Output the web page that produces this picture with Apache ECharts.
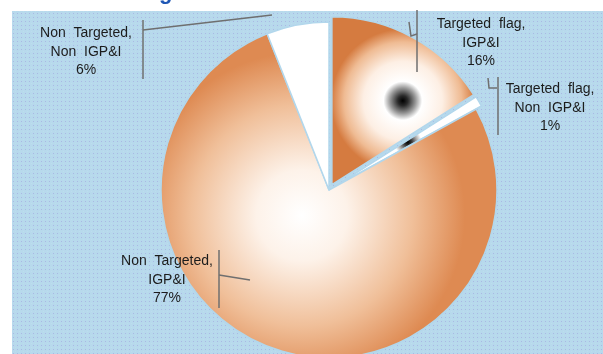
<!DOCTYPE html>
<html>
<head>
<meta charset="utf-8">
<script src="https://cdn.jsdelivr.net/npm/echarts@6/dist/echarts.min.js"></script>
<style>
html,body{margin:0;padding:0;background:#fff;}
#c{width:603px;height:354px;}
</style>
</head>
<body>
<div id="c"></div>
<script>
// ---- data ----
var categories = ["Targeted  flag,\nIGP&I", "Targeted  flag,\nNon  IGP&I", "Non  Targeted,\nIGP&I", "Non  Targeted,\nNon  IGP&I"];
var values = [16, 1, 77, 6];
var exploded = [true, true, false, false];

// ---- layout / style (kept separate from data) ----
var labelPos = [[481, 43], [550, 108], [167, 280], [86, 52]];
var fills = [
  {type:'radial', x:0.5, y:0.5, r:0.5, colorStops:[
    {offset:0, color:'#000000'},{offset:0.07, color:'#2a2a2a'},{offset:0.18, color:'#9a9a9a'},
    {offset:0.27, color:'#ffffff'},{offset:0.55, color:'#fdefe4'},{offset:0.82, color:'#efbb93'},{offset:1, color:'#d57b40'}]},
  {type:'radial', x:0.5, y:0.5, r:0.5, colorStops:[
    {offset:0, color:'#000000'},{offset:0.08, color:'#333333'},{offset:0.2, color:'#aaaaaa'},
    {offset:0.3, color:'#ffffff'},{offset:1, color:'#ffffff'}]},
  {type:'radial', x:0.42, y:0.56, r:0.5, colorStops:[
    {offset:0, color:'#ffffff'},{offset:0.28, color:'#fdf2e9'},{offset:0.68, color:'#f0bf99'},{offset:1, color:'#de8a52'}]},
  '#ffffff'
];

var sliceData = values.map(function(v, i){
  return {name: categories[i], value: v, selected: exploded[i], itemStyle: {color: fills[i]}};
});
var labelData = values.map(function(v, i){
  return {name: categories[i], value: v};
});

// dotted background pattern
var pc = document.createElement('canvas');
pc.width = 4; pc.height = 4;
var pctx = pc.getContext('2d');
pctx.fillStyle = '#b7d9ec'; pctx.fillRect(0,0,4,4);
pctx.fillStyle = '#aab8e4'; pctx.fillRect(1,1,1,1);
pctx.fillStyle = '#bcdcee'; pctx.fillRect(3,3,1,1);

var leader = {stroke:'#6f6f6f', lineWidth:1.5, fill:null};
function pl(pts){ return {type:'polyline', z:20, shape:{points:pts}, style:leader, silent:true}; }

var chart = echarts.init(document.getElementById('c'), null, {renderer:'canvas'});
chart.setOption({
  animation:false,
  backgroundColor:'#ffffff',
  graphic:[
    {type:'rect', z:-10, shape:{x:12, y:11, width:591, height:343}, style:{fill:{image:pc, repeat:'repeat'}}, silent:true},
    {type:'text', z:5, x:159, y:4, style:{text:'g', fill:'#1f57b5', font:'bold 22px "Liberation Sans", Arial', verticalAlign:'bottom'}, silent:true},
    pl([[143,20],[143,79]]), pl([[143,30],[272,15]]),
    pl([[417,10],[417,72]]), pl([[409,22],[411,36],[417,34]]),
    pl([[498,77],[498,135]]), pl([[488,78],[489,88],[497,88]]),
    pl([[219,250],[219,308]]), pl([[219,275],[250,280]])
  ],
  series:[{
    type:'pie',
    center:[329, 190],
    radius:168,
    startAngle:90,
    clockwise:true,
    selectedMode:'multiple',
    selectedOffset:6,
    emphasis:{disabled:true},
    itemStyle:{borderColor:'#b2d7ec', borderWidth:1.5},
    label:{show:false},
    labelLine:{show:false},
    data:sliceData
  },{
    type:'pie',
    center:[329, 190],
    radius:168,
    startAngle:90,
    clockwise:true,
    silent:true,
    z:5,
    avoidLabelOverlap:false,
    emphasis:{disabled:true},
    itemStyle:{color:'rgba(0,0,0,0)', borderWidth:0},
    label:{
      show:true,
      formatter:'{b}\n{d}%',
      color:'#1c1c1c',
      fontFamily:'"Liberation Sans", Arial, sans-serif',
      fontSize:14,
      lineHeight:18.5,
      align:'center'
    },
    labelLine:{show:false},
    labelLayout:function(p){
      var pos = labelPos[p.dataIndex];
      return {x:pos[0], y:pos[1], align:'center', verticalAlign:'middle'};
    },
    data:labelData
  }]
});
</script>
</body>
</html>
